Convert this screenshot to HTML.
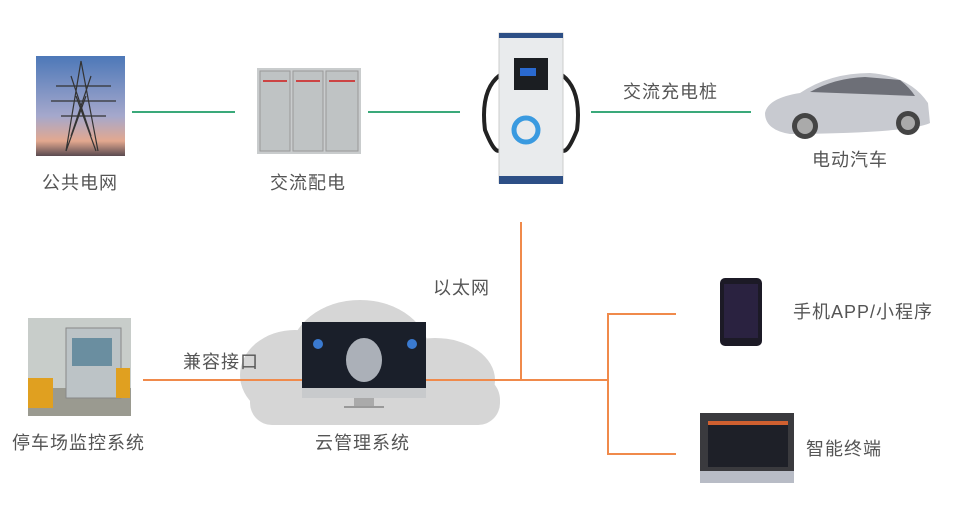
<!DOCTYPE html>
<html><head><meta charset="utf-8"><style>
body{margin:0;width:954px;height:505px;background:#fff;position:relative;overflow:hidden;font-family:"Liberation Sans","Noto Sans CJK SC",sans-serif;color:#555}
.a{position:absolute}
.t{position:absolute;font-size:18px;line-height:22px;color:#555;white-space:nowrap;letter-spacing:1px}
.g{position:absolute;height:2px;background:#3aa97a}
.o{position:absolute;background:#f08a4b}
</style></head><body>
<div class="g" style="left:132px;top:111px;width:103px"></div>
<div class="g" style="left:368px;top:111px;width:92px"></div>
<div class="g" style="left:591px;top:111px;width:160px"></div>
<svg class="a" style="left:230px;top:290px" width="280" height="150">
<g fill="#d6d6d6">
<ellipse cx="65" cy="85" rx="55" ry="45"/>
<ellipse cx="130" cy="65" rx="70" ry="55"/>
<ellipse cx="205" cy="90" rx="60" ry="42"/>
<ellipse cx="245" cy="110" rx="25" ry="25"/>
<rect x="20" y="90" width="250" height="45" rx="22"/>
</g></svg>
<div class="o" style="left:520px;top:222px;width:2px;height:159px"></div>
<div class="o" style="left:143px;top:379px;width:160px;height:2px"></div>
<div class="o" style="left:424px;top:379px;width:185px;height:2px"></div>
<div class="o" style="left:607px;top:313px;width:2px;height:142px"></div>
<div class="o" style="left:607px;top:313px;width:69px;height:2px"></div>
<div class="o" style="left:607px;top:453px;width:69px;height:2px"></div>
<svg class="a" style="left:36px;top:56px" width="89" height="100">
<defs><linearGradient id="sk" x1="0" y1="0" x2="0" y2="1"><stop offset="0" stop-color="#4d78b8"/><stop offset=".6" stop-color="#a5a8cc"/><stop offset=".85" stop-color="#e3a88f"/><stop offset="1" stop-color="#5a4a50"/></linearGradient></defs>
<rect width="89" height="100" fill="url(#sk)"/>
<g stroke="#333" stroke-width="1.2" fill="none">
<path d="M45 5 L30 95 M45 5 L62 95 M20 30 L75 30 M15 45 L80 45 M25 60 L70 60 M35 20 L55 80 M55 20 L35 80 M40 40 L60 95 M50 40 L30 95"/>
</g></svg>
<svg class="a" style="left:257px;top:66px" width="104" height="88">
<rect x="0" y="2" width="104" height="86" fill="#c9cccd"/>
<rect x="3" y="5" width="30" height="80" fill="#bfc3c4" stroke="#999"/>
<rect x="36" y="5" width="30" height="80" fill="#bfc3c4" stroke="#999"/>
<rect x="69" y="5" width="32" height="80" fill="#bfc3c4" stroke="#999"/>
<g fill="#c44"><rect x="6" y="14" width="24" height="2"/><rect x="39" y="14" width="24" height="2"/><rect x="72" y="14" width="26" height="2"/></g>
</svg>
<svg class="a" style="left:470px;top:30px" width="122" height="156">
<path d="M30 45 Q10 60 15 100 Q25 125 30 120" stroke="#222" stroke-width="4" fill="none"/>
<path d="M92 45 Q112 60 107 100 Q97 125 92 120" stroke="#222" stroke-width="4" fill="none"/>
<rect x="29" y="3" width="64" height="150" fill="#e9ebed" stroke="#ccc"/>
<rect x="29" y="3" width="64" height="5" fill="#2d4f86"/>
<rect x="29" y="146" width="64" height="8" fill="#2d4f86"/>
<rect x="44" y="28" width="34" height="32" fill="#1b1e22"/>
<rect x="50" y="38" width="16" height="8" fill="#2a6ad0"/>
<circle cx="56" cy="100" r="12" fill="none" stroke="#3a9ae0" stroke-width="5"/>
</svg>
<svg class="a" style="left:760px;top:68px" width="172" height="74">
<path d="M5 45 Q8 30 40 25 Q70 5 110 5 Q150 8 168 35 L170 55 Q150 65 30 66 Q5 62 5 45Z" fill="#c8cad0"/>
<path d="M50 24 Q75 10 105 9 L140 12 Q150 20 155 28 Z" fill="#6d6f77"/>
<circle cx="45" cy="58" r="13" fill="#444"/><circle cx="45" cy="58" r="8" fill="#aaa"/>
<circle cx="148" cy="55" r="12" fill="#444"/><circle cx="148" cy="55" r="7" fill="#aaa"/>
</svg>
<svg class="a" style="left:28px;top:318px" width="103" height="98">
<rect width="103" height="98" fill="#c8cdca"/>
<rect x="0" y="70" width="103" height="28" fill="#9a9a90"/>
<rect x="38" y="10" width="55" height="70" fill="#bcc3c6" stroke="#888"/>
<rect x="44" y="20" width="40" height="28" fill="#6a8ea0"/>
<rect x="0" y="60" width="25" height="30" fill="#e0a020"/>
<rect x="88" y="50" width="14" height="30" fill="#e0a020"/>
</svg>
<svg class="a" style="left:302px;top:322px" width="124" height="88">
<rect x="0" y="0" width="124" height="70" fill="#1a1f2a"/>
<rect x="0" y="66" width="124" height="10" fill="#c8cacc"/>
<rect x="52" y="76" width="20" height="8" fill="#aaa"/>
<rect x="42" y="84" width="40" height="2" fill="#999"/>
<ellipse cx="62" cy="38" rx="18" ry="22" fill="#d0d4dc" opacity=".8"/>
<circle cx="16" cy="22" r="5" fill="#3a7ad0"/><circle cx="110" cy="22" r="5" fill="#3a7ad0"/>
</svg>
<svg class="a" style="left:720px;top:278px" width="42" height="68">
<rect width="42" height="68" rx="5" fill="#1c1a26"/>
<rect x="4" y="6" width="34" height="54" fill="#2a2240"/>
</svg>
<svg class="a" style="left:700px;top:413px" width="94" height="70">
<rect width="94" height="70" fill="#3a3a3e"/>
<rect x="8" y="8" width="80" height="46" fill="#1e2028"/>
<rect x="8" y="8" width="80" height="4" fill="#d06030"/>
<rect x="0" y="58" width="94" height="12" fill="#b8bcc6"/>
</svg>
<div class="t" style="left:42px;top:172px">公共电网</div>
<div class="t" style="left:270px;top:172px">交流配电</div>
<div class="t" style="left:623px;top:81px">交流充电桩</div>
<div class="t" style="left:812px;top:149px">电动汽车</div>
<div class="t" style="left:433px;top:277px">以太网</div>
<div class="t" style="left:183px;top:351px">兼容接口</div>
<div class="t" style="left:12px;top:432px">停车场监控系统</div>
<div class="t" style="left:315px;top:432px">云管理系统</div>
<div class="t" style="left:793px;top:301px">手机APP/小程序</div>
<div class="t" style="left:806px;top:438px">智能终端</div>
</body></html>
